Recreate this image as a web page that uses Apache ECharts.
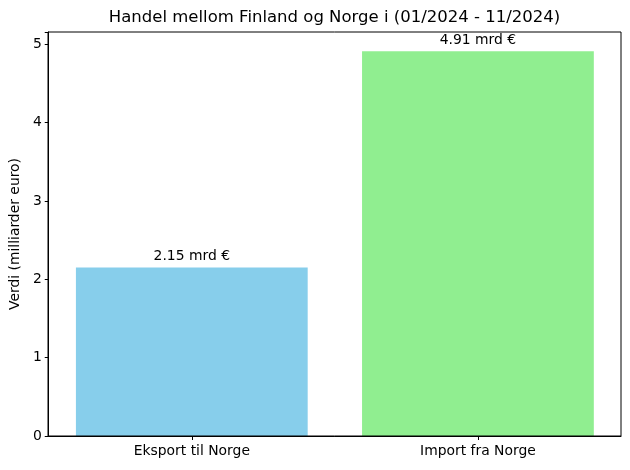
<!DOCTYPE html>
<html><head><meta charset="utf-8">
<script src="https://cdn.jsdelivr.net/npm/echarts@6/dist/echarts.min.js"></script>
<style>html,body{margin:0;padding:0;background:#fff}#c{width:630px;height:470px}</style>
</head><body><div id="c"></div>
<script>
const categories = ["Eksport til Norge", "Import fra Norge"];
const values = [2.15, 4.91];
const barColors = ["#87CEEB", "#90EE90"];
const yTicks = [0, 1, 2, 3, 4, 5];
const titleText = "Handel mellom Finland og Norge i (01/2024 - 11/2024)";
const yLabel = "Verdi (milliarder euro)";

const font = "DejaVu Sans";
const G = {left: 48, right: 9, top: 32, bottom: 34};
const chart = echarts.init(document.getElementById('c'), null, {renderer: 'canvas'});
chart.setOption({
  animation: false,
  textStyle: {fontFamily: font},
  grid: {left: G.left, right: G.right, top: G.top, bottom: G.bottom, containLabel: false},
  xAxis: {type: 'category', data: categories,
    axisLine: {show: true, lineStyle: {color: '#000', width: 1}},
    axisTick: {show: true, alignWithLabel: true, length: 4, lineStyle: {color: '#000'}},
    axisLabel: {color: '#000', fontSize: 13.9, fontFamily: font, margin: 8},
    splitLine: {show: false}},
  yAxis: {type: 'value', min: 0, max: Math.max(...values) * 1.05, interval: 1,
    name: yLabel, nameLocation: 'middle', nameGap: 24,
    nameTextStyle: {color: '#000', fontSize: 13.9, fontFamily: font},
    axisLine: {show: true, lineStyle: {color: '#000', width: 1}},
    axisTick: {show: true, length: 4, lineStyle: {color: '#000'}},
    axisLabel: {color: '#000', fontSize: 13.9, fontFamily: font, margin: 7,
      formatter: v => yTicks.includes(v) ? String(v) : ''},
    splitLine: {show: false}},
  series: [{
    type: 'bar', barWidth: '81%', barCategoryGap: '19%',
    data: values.map((v, i) => ({value: v, itemStyle: {color: barColors[i]}})),
    label: {show: true, position: 'top', distance: 4, color: '#000', fontSize: 13.9, fontFamily: font,
      formatter: p => p.value.toFixed(2) + ' mrd €'}
  }],
  graphic: [
    {type: 'rect', shape: {x: G.left, y: G.top, width: 630 - G.left - G.right, height: 470 - G.top - G.bottom},
      style: {fill: 'none', stroke: '#000', lineWidth: 1}, silent: true, z: 100},
    {type: 'text', x: (G.left + 630 - G.right) / 2, y: 18, silent: true, z: 100,
      style: {text: titleText, fill: '#000', font: '16.5px "DejaVu Sans"', textAlign: 'center', textVerticalAlign: 'middle'}}
  ]
});
</script></body></html>
